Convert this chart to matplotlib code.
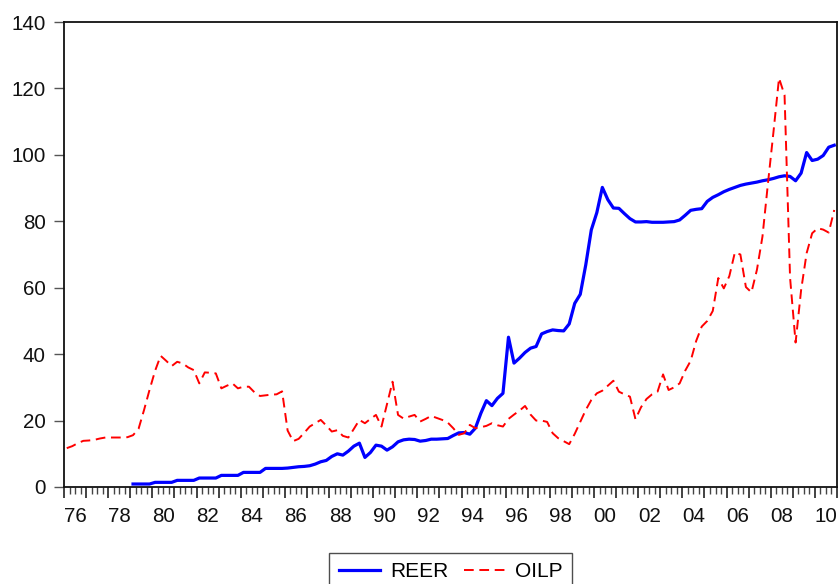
import numpy as np
import matplotlib
matplotlib.use('Agg')
import matplotlib.pyplot as plt
import matplotlib.transforms as mtrans
from matplotlib.ticker import MultipleLocator

plt.rcParams['font.family'] = ['Liberation Sans', 'DejaVu Sans']

# quarterly data, 1976Q1 - 2010Q4
start_year = 1976
end_year = 2010

# oil price, one row per year (Q1..Q4)
oilp = [
    11.7, 12.3, 13.2, 13.9,     # 1976
    14.0, 14.2, 14.6, 14.9,     # 1977
    14.9, 14.9, 14.9, 15.0,     # 1978
    15.6, 17.5, 23.2, 29.3,     # 1979
    35.0, 39.5, 38.0, 36.4,     # 1980
    37.7, 37.2, 36.0, 35.2,     # 1981
    31.2, 34.5, 34.4, 34.2,     # 1982
    29.7, 30.5, 31.2, 29.7,     # 1983
    30.2, 30.2, 28.5, 27.4,     # 1984
    27.6, 27.8, 27.9, 28.8,     # 1985
    17.0, 13.8, 14.5, 16.3,     # 1986
    18.2, 19.2, 20.2, 18.5,     # 1987
    16.7, 17.1, 15.4, 14.9,     # 1988
    17.5, 20.2, 19.2, 20.5,     # 1989
    21.7, 18.2, 25.0, 31.7,     # 1990
    21.7, 20.6, 21.2, 21.7,     # 1991
    19.7, 20.5, 21.4, 20.8,     # 1992
    20.2, 19.4, 17.7, 15.7,     # 1993
    16.2, 18.7, 17.7, 18.0,     # 1994
    18.4, 19.2, 18.6, 18.2,     # 1995
    20.5, 21.8, 23.0, 24.4,     # 1996
    21.8, 20.0, 20.0, 19.6,     # 1997
    16.2, 14.7, 13.8, 12.9,     # 1998
    16.0, 19.6, 23.2, 26.2,     # 1999
    28.2, 29.0, 30.5, 32.0,     # 2000
    28.7, 27.9, 27.2, 20.4,     # 2001
    24.0, 26.5, 27.9, 28.7,     # 2002
    33.9, 29.2, 30.0, 31.2,     # 2003
    35.0, 38.0, 44.0, 48.3,     # 2004
    50.0, 53.0, 62.9, 59.8,     # 2005
    63.5, 70.6, 70.0, 60.2,     # 2006
    58.6, 65.4, 75.4, 91.5,     # 2007
    107.0, 123.1, 118.0, 63.0,  # 2008
    43.5, 59.3, 70.4, 76.4,     # 2009
    77.9, 77.5, 76.6, 83.4,     # 2010
]

# real effective exchange rate, starts 1979Q1
reer_start = 1979
reer = [
    0.9, 0.9, 0.9, 0.9,         # 1979
    1.4, 1.4, 1.4, 1.4,         # 1980
    2.0, 2.0, 2.0, 2.0,         # 1981
    2.7, 2.7, 2.7, 2.7,         # 1982
    3.5, 3.5, 3.5, 3.5,         # 1983
    4.4, 4.4, 4.4, 4.4,         # 1984
    5.6, 5.6, 5.6, 5.6,         # 1985
    5.7, 5.9, 6.1, 6.2,         # 1986
    6.4, 6.9, 7.6, 8.0,         # 1987
    9.2, 10.0, 9.6, 10.8,       # 1988
    12.3, 13.2, 8.9, 10.4,      # 1989
    12.6, 12.3, 11.1, 12.1,     # 1990
    13.6, 14.2, 14.4, 14.3,     # 1991
    13.8, 14.0, 14.4, 14.4,     # 1992
    14.5, 14.6, 15.5, 16.3,     # 1993
    16.4, 15.9, 17.7, 22.2,     # 1994
    26.0, 24.5, 26.7, 28.2,     # 1995
    45.1, 37.3, 38.8, 40.5,     # 1996
    41.8, 42.3, 46.1, 46.8,     # 1997
    47.3, 47.1, 47.0, 49.1,     # 1998
    55.3, 58.0, 66.9, 77.4,     # 1999
    82.6, 90.2, 86.5, 84.0,     # 2000
    83.9, 82.3, 80.8, 79.8,     # 2001
    79.8, 79.9, 79.7, 79.7,     # 2002
    79.7, 79.8, 79.9, 80.4,     # 2003
    81.8, 83.3, 83.6, 83.8,     # 2004
    86.0, 87.2, 88.0, 88.9,     # 2005
    89.6, 90.2, 90.8, 91.2,     # 2006
    91.5, 91.8, 92.2, 92.5,     # 2007
    92.9, 93.4, 93.7, 93.5,     # 2008
    92.2, 94.5, 100.7, 98.3,    # 2009
    98.7, 99.8, 102.3, 102.9,   # 2010
]

# time axis: each quarter plotted at its mid point
t_oilp = start_year + np.arange(len(oilp)) / 4 + 0.125
t_reer = reer_start + np.arange(len(reer)) / 4 + 0.125
label_years = np.arange(start_year, end_year + 1, 2)

fs = 14.8

fig = plt.figure(figsize=(8.4, 5.84), dpi=100)
ax = fig.add_axes([64/840, 1 - 487/584, (837 - 64)/840, (487 - 22)/584])

ax.plot(t_reer, reer, color='#0000FF', lw=2.3, label='REER', solid_joinstyle='round')
ax.plot(t_oilp, oilp, color='#FF0000', lw=1.4, dashes=(5.0, 2.9), label='OILP')

ax.set_xlim(start_year, end_year + 1)
ax.set_ylim(0, 140)
ax.yaxis.set_major_locator(MultipleLocator(20))

# year ticks + quarter ticks, labels in the middle of the year (EViews style)
ax.xaxis.set_major_locator(MultipleLocator(1))
ax.xaxis.set_minor_locator(MultipleLocator(0.25))
ax.set_xticklabels([])
ax.tick_params(axis='x', which='major', direction='out', length=8, width=1.2, color='#222222')
ax.tick_params(axis='x', which='minor', direction='out', length=5, width=1.0, color='#444444')
ax.tick_params(axis='y', which='major', direction='out', length=7.5, width=1.0, color='#555555',
               labelsize=fs, pad=5.5, labelcolor='#111111')
ax.tick_params(right=False, top=False)

trans = mtrans.blended_transform_factory(ax.transData, ax.transAxes)
for y in label_years:
    ax.text(y + 0.5, -0.0746, f"{y % 100:02d}", transform=trans, ha='center', va='baseline',
            fontsize=fs, color='#111111')

for sp in ax.spines.values():
    sp.set_linewidth(1.3)
    sp.set_color('#111111')

leg = ax.legend(loc='upper center', bbox_to_anchor=(450.5/840, 1 - 553/584),
                bbox_transform=fig.transFigure, ncol=2, fontsize=15, frameon=True,
                fancybox=False, edgecolor='#222222', handlelength=2.0, handletextpad=0.45,
                columnspacing=0.75, borderpad=0.45, borderaxespad=0)
leg.get_frame().set_linewidth(1.0)

fig.savefig('out.png', dpi=100)
